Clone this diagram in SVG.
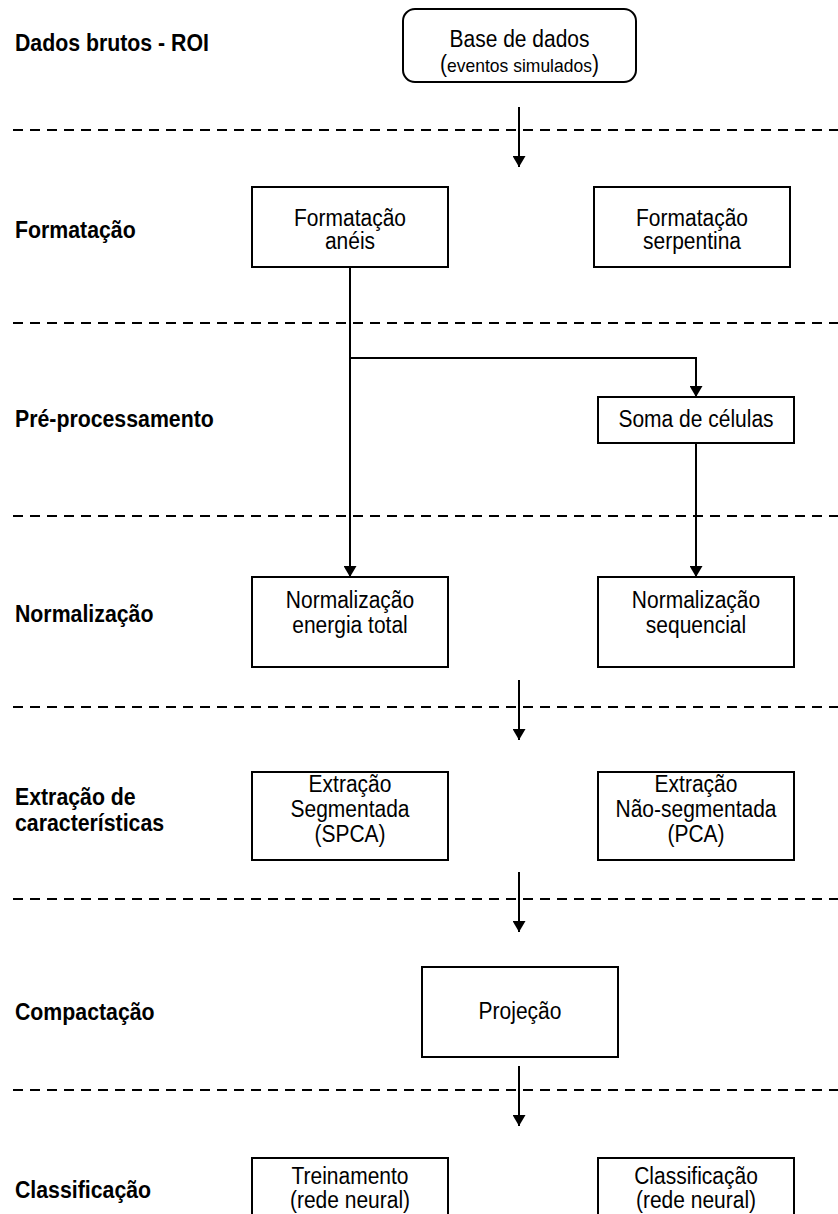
<svg xmlns="http://www.w3.org/2000/svg" width="838" height="1214" viewBox="0 0 838 1214">
  <style>
    .box { fill: #ffffff; stroke: #000000; stroke-width: 2; }
    .sep { stroke: #000000; stroke-width: 2; stroke-dasharray: 10 7; fill: none; }
    .wire { stroke: #000000; stroke-width: 2; fill: none; }
    .lbl { font-family: "Liberation Sans", Arial, sans-serif; font-weight: bold; font-size: 21.3px; fill: #000000; }
    .txt { font-family: "Liberation Sans", Arial, sans-serif; font-size: 21px; fill: #000000; text-anchor: middle; }
    .sm { font-size: 17.5px; }
  </style>
  <defs>
    <marker id="arrow" viewBox="0 0 11 13" refX="11" refY="6.5" markerWidth="11" markerHeight="13" markerUnits="userSpaceOnUse" orient="auto">
      <path d="M0,0 L11,6.5 L0,13 Z" fill="#000000"/>
    </marker>
  </defs>

  <rect width="838" height="1214" fill="#ffffff"/>

  <!-- stage labels (slightly tall lettering: x scale 1, y scale 1.1) -->
  <g id="stage-labels">
    <text class="lbl" transform="matrix(1 0 0 1.1 15 51)">Dados brutos - ROI</text>
    <text class="lbl" transform="matrix(1 0 0 1.1 15 238)">Formatação</text>
    <text class="lbl" transform="matrix(1 0 0 1.1 15 427)">Pré-processamento</text>
    <text class="lbl" transform="matrix(1 0 0 1.1 15 622)">Normalização</text>
    <text class="lbl" transform="matrix(1 0 0 1.1 15 805)">Extração de</text>
    <text class="lbl" transform="matrix(1 0 0 1.1 15 831)">características</text>
    <text class="lbl" transform="matrix(1 0 0 1.1 15 1020)">Compactação</text>
    <text class="lbl" transform="matrix(1 0 0 1.1 15 1198)">Classificação</text>
  </g>

  <!-- stage separators -->
  <g id="separators">
    <line class="sep" x1="13" y1="130" x2="838" y2="130"/>
    <line class="sep" x1="13" y1="323" x2="838" y2="323"/>
    <line class="sep" x1="13" y1="516" x2="838" y2="516"/>
    <line class="sep" x1="13" y1="707" x2="838" y2="707"/>
    <line class="sep" x1="13" y1="899" x2="838" y2="899"/>
    <line class="sep" x1="13" y1="1090" x2="838" y2="1090"/>
  </g>

  <g id="connectors">
    <line class="wire" x1="519" y1="107" x2="519" y2="167" marker-end="url(#arrow)"/>
    <line class="wire" x1="350" y1="267" x2="350" y2="577" marker-end="url(#arrow)"/>
    <polyline class="wire" points="350,358 696,358 696,397" marker-end="url(#arrow)"/>
    <line class="wire" x1="696" y1="443" x2="696" y2="577" marker-end="url(#arrow)"/>
    <line class="wire" x1="519" y1="680" x2="519" y2="740" marker-end="url(#arrow)"/>
    <line class="wire" x1="519" y1="872" x2="519" y2="932" marker-end="url(#arrow)"/>
    <line class="wire" x1="519" y1="1066" x2="519" y2="1126" marker-end="url(#arrow)"/>
  </g>

  <g id="base-de-dados">
    <rect class="box" x="403" y="9" width="233" height="73" rx="12"/>
    <text class="txt" transform="matrix(1 0 0 1.1 519.5 47)">Base de dados</text>
    <text class="txt" transform="matrix(1 0 0 1.1 519.5 72)">(<tspan class="sm">eventos simulados</tspan>)</text>
  </g>

  <g id="formatacao-aneis">
    <rect class="box" x="252" y="187" width="196" height="80"/>
    <text class="txt" transform="matrix(1 0 0 1.1 350 226)">Formatação</text>
    <text class="txt" transform="matrix(1 0 0 1.1 350 249)">anéis</text>
  </g>

  <g id="formatacao-serpentina">
    <rect class="box" x="594" y="187" width="196" height="80"/>
    <text class="txt" transform="matrix(1 0 0 1.1 692 226)">Formatação</text>
    <text class="txt" transform="matrix(1 0 0 1.1 692 249)">serpentina</text>
  </g>

  <g id="soma-celulas">
    <rect class="box" x="598" y="397" width="196" height="46"/>
    <text class="txt" transform="matrix(1 0 0 1.1 696 427)">Soma de células</text>
  </g>

  <g id="normalizacao-energia">
    <rect class="box" x="252" y="577" width="196" height="90"/>
    <text class="txt" transform="matrix(1 0 0 1.1 350 608)">Normalização</text>
    <text class="txt" transform="matrix(1 0 0 1.1 350 633)">energia total</text>
  </g>

  <g id="normalizacao-sequencial">
    <rect class="box" x="598" y="577" width="196" height="90"/>
    <text class="txt" transform="matrix(1 0 0 1.1 696 608)">Normalização</text>
    <text class="txt" transform="matrix(1 0 0 1.1 696 633)">sequencial</text>
  </g>

  <g id="extracao-segmentada">
    <rect class="box" x="252" y="772" width="196" height="88"/>
    <text class="txt" transform="matrix(1 0 0 1.1 350 792)">Extração</text>
    <text class="txt" transform="matrix(1 0 0 1.1 350 817)">Segmentada</text>
    <text class="txt" transform="matrix(1 0 0 1.1 350 842)">(SPCA)</text>
  </g>

  <g id="extracao-nao-segmentada">
    <rect class="box" x="598" y="772" width="196" height="88"/>
    <text class="txt" transform="matrix(1 0 0 1.1 696 792)">Extração</text>
    <text class="txt" transform="matrix(1 0 0 1.1 696 817)">Não-segmentada</text>
    <text class="txt" transform="matrix(1 0 0 1.1 696 842)">(PCA)</text>
  </g>

  <g id="projecao">
    <rect class="box" x="422" y="967" width="196" height="90"/>
    <text class="txt" transform="matrix(1 0 0 1.1 520 1019)">Projeção</text>
  </g>

  <g id="treinamento">
    <rect class="box" x="252" y="1158" width="196" height="70"/>
    <text class="txt" transform="matrix(1 0 0 1.1 350 1184)">Treinamento</text>
    <text class="txt" transform="matrix(1 0 0 1.1 350 1208)">(rede neural)</text>
  </g>

  <g id="classificacao">
    <rect class="box" x="598" y="1158" width="196" height="70"/>
    <text class="txt" transform="matrix(1 0 0 1.1 696 1184)">Classificação</text>
    <text class="txt" transform="matrix(1 0 0 1.1 696 1208)">(rede neural)</text>
  </g>
</svg>
